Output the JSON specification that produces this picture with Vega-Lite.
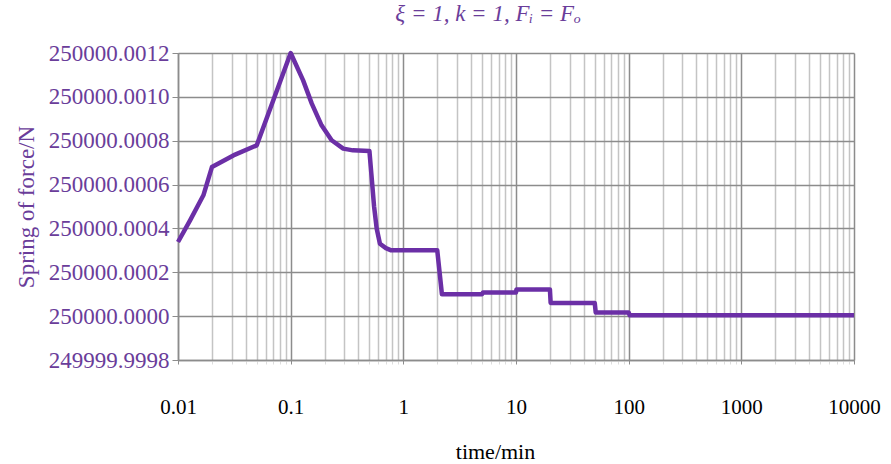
{
  "$schema": "https://vega.github.io/schema/vega-lite/v6.json",
  "width": 676,
  "height": 307,
  "autosize": "none",
  "padding": {"left": 178, "top": 53, "right": 37, "bottom": 104},
  "background": "white",
  "title": {
    "text": "ξ = 1, k = 1, Fᵢ = Fₒ",
    "font": "Times New Roman, Liberation Serif, serif",
    "fontSize": 23,
    "fontWeight": "normal",
    "fontStyle": "italic",
    "color": "#6a3d9a",
    "anchor": "middle",
    "dx": -28,
    "offset": 16
  },
  "data": {
    "values": [
      {"i": 1, "t": 0.01, "f": 250000.000338},
      {"i": 2, "t": 0.0128, "f": 250000.000437},
      {"i": 3, "t": 0.0168, "f": 250000.000551},
      {"i": 4, "t": 0.02, "f": 250000.00068},
      {"i": 5, "t": 0.031, "f": 250000.000733},
      {"i": 6, "t": 0.05, "f": 250000.000779},
      {"i": 7, "t": 0.1, "f": 250000.0012},
      {"i": 8, "t": 0.129, "f": 250000.001075},
      {"i": 9, "t": 0.154, "f": 250000.000969},
      {"i": 10, "t": 0.188, "f": 250000.00087},
      {"i": 11, "t": 0.231, "f": 250000.000802},
      {"i": 12, "t": 0.293, "f": 250000.000764},
      {"i": 13, "t": 0.357, "f": 250000.000756},
      {"i": 14, "t": 0.5, "f": 250000.000753},
      {"i": 15, "t": 0.52, "f": 250000.00065},
      {"i": 16, "t": 0.55, "f": 250000.0005},
      {"i": 17, "t": 0.58, "f": 250000.0004},
      {"i": 18, "t": 0.62, "f": 250000.00033},
      {"i": 19, "t": 0.7, "f": 250000.00031},
      {"i": 20, "t": 0.78, "f": 250000.0003},
      {"i": 21, "t": 2.0, "f": 250000.0003},
      {"i": 22, "t": 2.2, "f": 250000.0001},
      {"i": 23, "t": 5, "f": 250000.0001},
      {"i": 24, "t": 5.1, "f": 250000.000108},
      {"i": 25, "t": 10, "f": 250000.000108},
      {"i": 26, "t": 10.1, "f": 250000.000122},
      {"i": 27, "t": 20, "f": 250000.000122},
      {"i": 28, "t": 20.3, "f": 250000.00006},
      {"i": 29, "t": 50, "f": 250000.00006},
      {"i": 30, "t": 51, "f": 250000.000017},
      {"i": 31, "t": 100, "f": 250000.000017},
      {"i": 32, "t": 102, "f": 250000.000004},
      {"i": 33, "t": 10000, "f": 250000.000004}
    ]
  },
  "mark": {"type": "line", "color": "#6b2fa6", "strokeWidth": 4.5, "strokeJoin": "round"},
  "encoding": {
    "order": {"field": "i", "type": "quantitative"},
    "x": {
      "field": "t",
      "type": "quantitative",
      "scale": {"type": "log", "domain": [0.01, 10000]},
      "axis": {
        "title": "time/min",
        "titleFont": "Times New Roman, Liberation Serif, serif",
        "titleFontSize": 22,
        "titleFontWeight": "normal",
        "titleColor": "#000000",
        "titlePadding": 24,
        "titleX": 317,
        "values": [0.01,0.02,0.03,0.04,0.05,0.06,0.07,0.08,0.09,0.1,0.2,0.3,0.4,0.5,0.6,0.7,0.8,0.9,1,2,3,4,5,6,7,8,9,10,20,30,40,50,60,70,80,90,100,200,300,400,500,600,700,800,900,1000,2000,3000,4000,5000,6000,7000,8000,9000,10000],
        "format": "~g",
        "labelExpr": "indexof(['0.01','0.1','1','10','100','1000','10000'], datum.label) >= 0 ? datum.label : ''",
        "labelFont": "Times New Roman, Liberation Serif, serif",
        "labelFontSize": 21,
        "labelColor": "#000000",
        "labelPadding": 32,
        "labelFlush": false,
        "labelOverlap": false,
        "grid": true,
        "gridColor": {"condition": {"test": "indexof([0.01,0.1,1,10,100,1000,10000], datum.value) >= 0", "value": "#8c8c8c"}, "value": "#c4c4c4"},
        "gridWidth": 1.5,
        "ticks": true,
        "tickSize": 4,
        "tickColor": {"condition": {"test": "indexof([0.01,0.1,1,10,100,1000,10000], datum.value) >= 0", "value": "#8c8c8c"}, "value": "#dddddd"},
        "domainColor": "#8c8c8c",
        "domainWidth": 1.5
      }
    },
    "y": {
      "field": "f",
      "type": "quantitative",
      "scale": {"domain": [249999.9998, 250000.0012], "zero": false, "nice": false},
      "axis": {
        "title": "Spring of force/N",
        "titleFont": "Times New Roman, Liberation Serif, serif",
        "titleFontSize": 23,
        "titleFontWeight": "normal",
        "titleColor": "#6a3d9a",
        "titlePadding": 10,
        "values": [249999.9998, 250000, 250000.0002, 250000.0004, 250000.0006, 250000.0008, 250000.001, 250000.0012],
        "format": ".4f",
        "labelFont": "Times New Roman, Liberation Serif, serif",
        "labelFontSize": 23,
        "labelColor": "#6a3d9a",
        "labelPadding": 3,
        "grid": true,
        "gridColor": "#8c8c8c",
        "gridWidth": 1.5,
        "tickSize": 6,
        "tickColor": "#8c8c8c",
        "domainColor": "#8c8c8c",
        "domainWidth": 1.5
      }
    }
  },
  "config": {"view": {"stroke": null}}
}
